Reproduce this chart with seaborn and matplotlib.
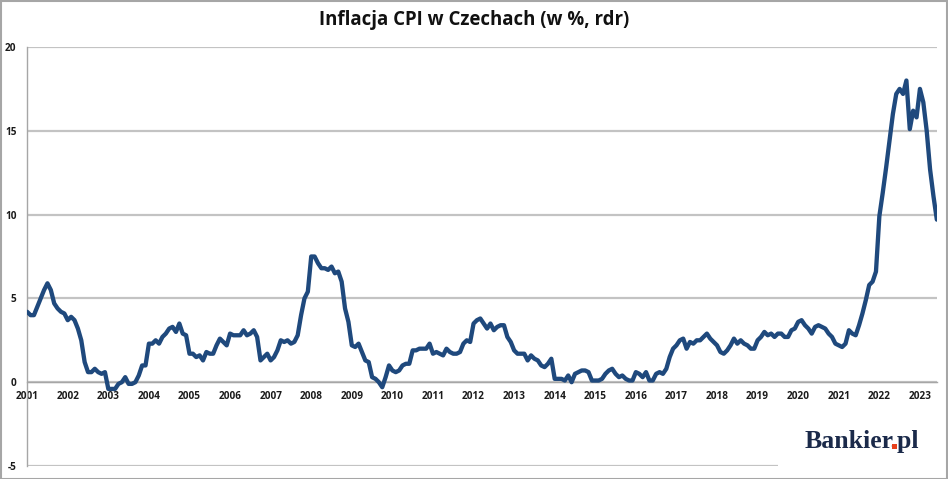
import numpy as np
import pandas as pd
import matplotlib
matplotlib.use("Agg")
import matplotlib.pyplot as plt
from matplotlib.patches import Rectangle
import seaborn as sns

# ---- data: Czech CPI, % y/y, monthly from Jan 2001 ----
start_year = 2001
cpi_2001_2005 = [
    4.2, 4.0, 4.0, 4.5, 5.0, 5.5, 5.9, 5.5, 4.7, 4.4, 4.2, 4.1,
    3.7, 3.9, 3.7, 3.2, 2.5, 1.2, 0.6, 0.6, 0.8, 0.6, 0.5, 0.6,
    -0.4, -0.4, -0.4, -0.1, 0.0, 0.3, -0.1, -0.1, 0.0, 0.4, 1.0, 1.0,
    2.3, 2.3, 2.5, 2.3, 2.7, 2.9, 3.2, 3.3, 3.0, 3.5, 2.9, 2.8,
    1.7, 1.7, 1.5, 1.6, 1.3, 1.8, 1.7, 1.7, 2.2, 2.6, 2.4, 2.2,
]
cpi_2006_2010 = [
    2.9, 2.8, 2.8, 2.8, 3.1, 2.8, 2.9, 3.1, 2.7, 1.3, 1.5, 1.7,
    1.3, 1.5, 1.9, 2.5, 2.4, 2.5, 2.3, 2.4, 2.8, 4.0, 5.0, 5.4,
    7.5, 7.5, 7.1, 6.8, 6.8, 6.7, 6.9, 6.5, 6.6, 6.0, 4.4, 3.6,
    2.2, 2.1, 2.3, 1.8, 1.3, 1.2, 0.3, 0.2, 0.0, -0.3, 0.3, 1.0,
    0.7, 0.6, 0.7, 1.0, 1.1, 1.1, 1.9, 1.9, 2.0, 2.0, 2.0, 2.3,
]
cpi_2011_2015 = [
    1.7, 1.8, 1.7, 1.6, 2.0, 1.8, 1.7, 1.7, 1.8, 2.3, 2.5, 2.4,
    3.5, 3.7, 3.8, 3.5, 3.2, 3.5, 3.1, 3.3, 3.4, 3.4, 2.7, 2.4,
    1.9, 1.7, 1.7, 1.7, 1.3, 1.6, 1.4, 1.3, 1.0, 0.9, 1.1, 1.4,
    0.2, 0.2, 0.2, 0.1, 0.4, 0.0, 0.5, 0.6, 0.7, 0.7, 0.6, 0.1,
    0.1, 0.1, 0.2, 0.5, 0.7, 0.8, 0.5, 0.3, 0.4, 0.2, 0.1, 0.1,
]
cpi_2016_2020 = [
    0.6, 0.5, 0.3, 0.6, 0.1, 0.1, 0.5, 0.6, 0.5, 0.8, 1.5, 2.0,
    2.2, 2.5, 2.6, 2.0, 2.4, 2.3, 2.5, 2.5, 2.7, 2.9, 2.6, 2.4,
    2.2, 1.8, 1.7, 1.9, 2.2, 2.6, 2.3, 2.5, 2.3, 2.2, 2.0, 2.0,
    2.5, 2.7, 3.0, 2.8, 2.9, 2.7, 2.9, 2.9, 2.7, 2.7, 3.1, 3.2,
    3.6, 3.7, 3.4, 3.2, 2.9, 3.3, 3.4, 3.3, 3.2, 2.9, 2.7, 2.3,
]
cpi_2021_2023 = [
    2.2, 2.1, 2.3, 3.1, 2.9, 2.8, 3.4, 4.1, 4.9, 5.8, 6.0, 6.6,
    9.9, 11.3, 12.8, 14.4, 16.0, 17.2, 17.5, 17.2, 18.0, 15.1, 16.2, 15.8,
    17.5, 16.7, 15.0, 12.7, 11.1, 9.7,
]
year_ticks = list(range(2001, 2024))
y_ticks = [-5, 0, 5, 10, 15, 20]
title = "Inflacja CPI w Czechach (w %, rdr)"

cpi = cpi_2001_2005 + cpi_2006_2010 + cpi_2011_2015 + cpi_2016_2020 + cpi_2021_2023
df = pd.DataFrame({"t": start_year + np.arange(len(cpi)) / 12.0, "cpi": cpi})

# ---- figure ----
W, H = 948, 479
sns.set_style("white")
plt.rcParams["font.family"] = ["Open Sans", "DejaVu Sans"]
fig = plt.figure(figsize=(W / 100, H / 100), dpi=100)
fig.patch.set_facecolor("white")

ax_l, ax_r, ax_t, ax_b = 27, 937, 47, 466
ax = fig.add_axes([ax_l / W, 1 - ax_b / H, (ax_r - ax_l) / W, (ax_b - ax_t) / H])

sns.lineplot(data=df, x="t", y="cpi", ax=ax, color="#1F497D", lw=3.1,
             solid_joinstyle="round", zorder=5)

n = len(cpi)
ax.set_xlim(start_year - 0.004, start_year + (n - 1) / 12.0 + 0.004)
ax.set_ylim(-5, 20)
ax.set_xlabel("")
ax.set_ylabel("")

ax.set_yticks(y_ticks)
ax.set_yticklabels([str(v) for v in y_ticks])
ax.set_xticks(year_ticks)
ax.set_xticklabels([str(v) for v in year_ticks])

ax.yaxis.grid(True, color="#c3c3c3", lw=1.6)
ax.xaxis.grid(False)
ax.set_axisbelow(True)

for s in ("top", "right"):
    ax.spines[s].set_visible(False)
ax.spines["left"].set_color("#a6a6a6")
ax.spines["left"].set_linewidth(1.0)
ax.spines["bottom"].set_position(("data", 0))
ax.spines["bottom"].set_color("#a6a6a6")
ax.spines["bottom"].set_linewidth(1.0)

ax.tick_params(axis="y", direction="out", length=2.5, width=0.8, color="#a6a6a6",
               pad=5, labelsize=7.2, labelcolor="#1a1a1a")
ax.tick_params(axis="x", direction="out", length=3, width=0.8, color="#a6a6a6",
               pad=3, labelsize=7.2, labelcolor="#1a1a1a")
for lab in ax.get_xticklabels() + ax.get_yticklabels():
    lab.set_fontweight("bold")

# title
fig.text(0.5, 1 - 20 / H, title, ha="center", va="center", fontsize=13.4,
         fontweight="bold", color="#111111")

# logo area (white background covering the grid, like the pasted logo)
fig.patches.append(Rectangle((778 / W, 8 / H), (940 - 778) / W, (60 - 8) / H,
                             transform=fig.transFigure, facecolor="white",
                             edgecolor="none", zorder=2))
navy = "#1b2a4a"
logo_size = 18.5
logo_kw = dict(fontsize=logo_size, fontweight="bold",
               family=["Liberation Serif", "DejaVu Serif"],
               va="baseline", ha="left", zorder=3)
x0, yb = 805 / W, 1 - 448 / H
fig.text(x0, yb, "Bankier.pl", color=navy, **logo_kw)

# measure where the period sits, then paint it red with a small square
r = fig.canvas.get_renderer()
probe1 = fig.text(x0, yb, "Bankier.", color="none", **logo_kw)
probe2 = fig.text(x0, yb, ".", color="none", **logo_kw)
w_all = probe1.get_window_extent(r).width
w_dot = probe2.get_window_extent(r).width
probe1.remove()
probe2.remove()
em = logo_size * 100 / 72.0
dot_cx = x0 * W + (w_all - w_dot) + 0.125 * em
dot_s = 0.19 * em
fig.patches.append(Rectangle(((dot_cx - dot_s / 2) / W, (yb * H - 0.6) / H),
                             dot_s / W, dot_s / H, transform=fig.transFigure,
                             facecolor="#e8401c", edgecolor="none", zorder=4))

# outer border
fig.patches.append(Rectangle((0.5 / W, 0.5 / H), 1 - 1.5 / W, 1 - 1.5 / H,
                             transform=fig.transFigure, fill=False,
                             edgecolor="#a6a6a6", lw=1.5, zorder=10))

fig.savefig("out.png", dpi=100, facecolor="white")
